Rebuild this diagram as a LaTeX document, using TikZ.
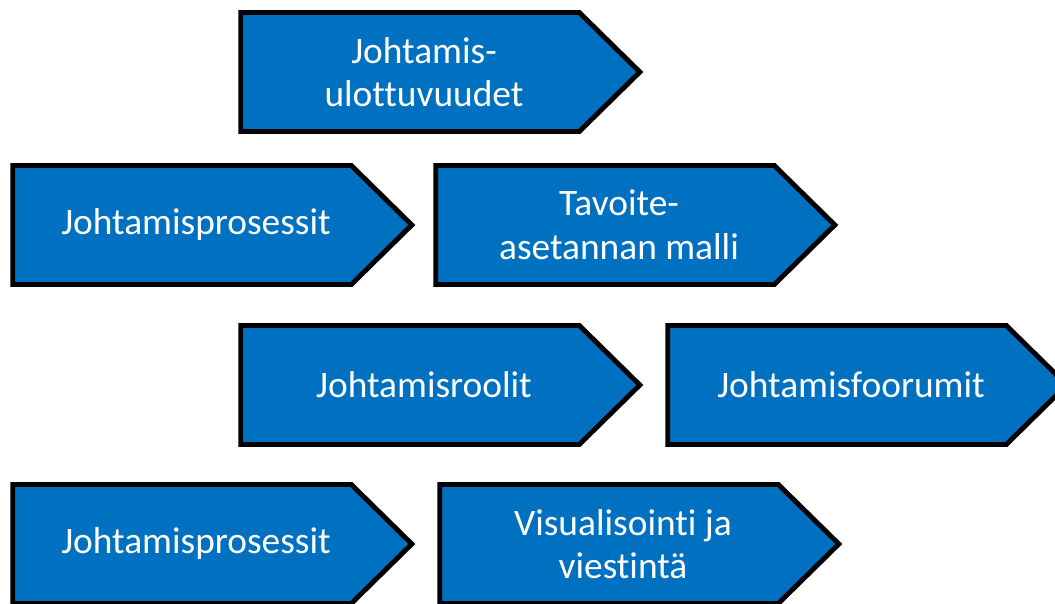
\documentclass[tikz,border=0pt]{standalone}
\usepackage{fontspec}
\setmainfont{Carlito}[Ligatures=NoCommon]
\usetikzlibrary{shapes.symbols}
\definecolor{figblue}{HTML}{0070C0}
\tikzset{arrowbox/.style={signal, signal to=east, signal pointer angle=89,
    draw=black, line width=3.5pt, fill=figblue,
    minimum width=9.975cm, minimum height=2.975cm, inner sep=0pt},
  boxtext/.style={text=white, align=center, xshift=0.35cm,
    font=\fontsize{26.6}{31}\selectfont}}

\begin{document}
\begin{tikzpicture}[x=0.025cm,y=0.025cm]
    \useasboundingbox (0,0) rectangle (1055,604);
    % row 1
    \node[arrowbox, label={[boxtext]center:Johtamis-\\ulottuvuudet}] (dims) at (410,532) {};
    % row 2
    \node[arrowbox, label={[boxtext]center:Johtamisprosessit}] (procA) at (182,379) {};
    \node[arrowbox, label={[boxtext]center:Tavoite-\\asetannan malli}] (goals) at (605,379) {};
    % row 3
    \node[arrowbox, label={[boxtext]center:Johtamisroolit}] (roles) at (410,219) {};
    \node[arrowbox, label={[boxtext]center:Johtamisfoorumit}] (forums) at (837,219) {};
    % row 4
    \node[arrowbox, label={[boxtext]center:Johtamisprosessit}] (procB) at (182,60) {};
    \node[arrowbox, label={[boxtext]center:Visualisointi ja\\viestintä}] (visual) at (609,60) {};
  \end{tikzpicture}
\end{document}
